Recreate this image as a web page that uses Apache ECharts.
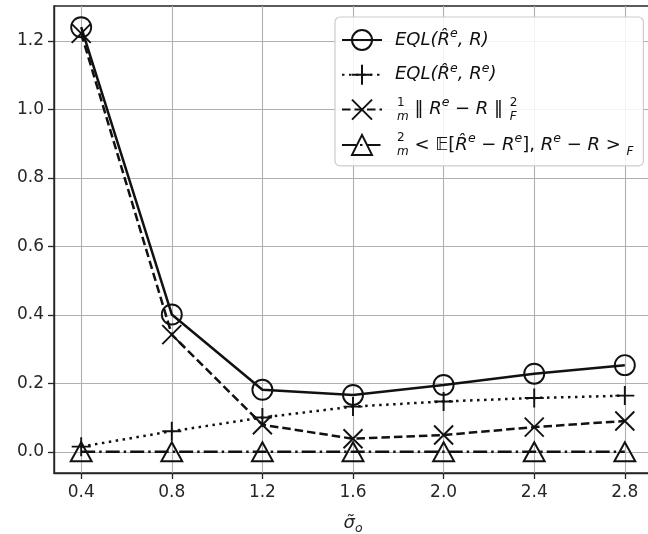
<!DOCTYPE html>
<html>
<head>
<meta charset="utf-8">
<script src="https://cdn.jsdelivr.net/npm/echarts@6/dist/echarts.min.js"></script>
<style>
html,body{margin:0;padding:0;background:#fff;}
#chart{width:648px;height:534px;}
</style>
</head>
<body>
<div id="chart"></div>
<script>
// ---- data ----
const sigmaValues = [0.4, 0.8, 1.2, 1.6, 2.0, 2.4, 2.8];
const eqlR        = [1.240, 0.401, 0.181, 0.166, 0.195, 0.228, 0.253];
const eqlRe       = [0.015, 0.060, 0.100, 0.132, 0.147, 0.157, 0.164];
const normTerm    = [1.222, 0.342, 0.079, 0.038, 0.049, 0.072, 0.090];
const crossTerm   = [0, 0, 0, 0, 0, 0, 0];
const xTicks = [0.4, 0.8, 1.2, 1.6, 2.0, 2.4, 2.8];
const yTicks = [0.0, 0.2, 0.4, 0.6, 0.8, 1.0, 1.2];
const seriesNames = ['EQL(R̂e,R)', 'EQL(R̂e,Re)', 'norm', 'cross'];

const FONT = 'DejaVu Sans';
const INK = '#111111';
const TXT = '#262626';

function pairs(vals) { return sigmaValues.map((x, i) => [x, vals[i]]); }

const richStyles = {
  it:  {fontFamily: FONT, fontStyle: 'italic', fontSize: 18, color: INK, lineHeight: 26},
  up:  {fontFamily: FONT, fontSize: 18, color: INK, lineHeight: 26},
  sup: {fontFamily: FONT, fontStyle: 'italic', fontSize: 12.5, color: INK, verticalAlign: 'top', lineHeight: 15},
  fn:  {fontFamily: FONT, fontSize: 12, color: INK, verticalAlign: 'top', lineHeight: 14, width: 0, padding: [0, 0, 0, 2]},
  fd:  {fontFamily: FONT, fontStyle: 'italic', fontSize: 12, color: INK, verticalAlign: 'bottom', lineHeight: 14},
  sp:  {fontFamily: FONT, fontSize: 12, color: INK, verticalAlign: 'top', lineHeight: 13, width: 0, padding: [0, 0, 0, 1]},
  sb:  {fontFamily: FONT, fontStyle: 'italic', fontSize: 12, color: INK, verticalAlign: 'bottom', lineHeight: 12}
};

const legendText = {
  'EQL(R̂e,R)':  '{it|EQL(R̂}{sup|e}{it|, R)}',
  'EQL(R̂e,Re)': '{it|EQL(R̂}{sup|e}{it|, R}{sup|e}{it|)}',
  'norm':  '{fn|1}{fd|m}{up| ‖ }{it|R}{sup|e}{up| − }{it|R}{up| ‖ }{sp|2}{sb|F}',
  'cross': '{fn|2}{fd|m}{up| < 𝔼[}{it|R̂}{sup|e}{up| − }{it|R}{sup|e}{up|], }{it|R}{sup|e}{up| − }{it|R}{up| > }{sb|F}'
};

const plusPath = 'path://M10,0L10,20M0,10L20,10';
const crossPath = 'path://M0,0L20,20M20,0L0,20';

function lineSeries(name, vals, symbol, size, dash) {
  return {
    name: name,
    type: 'line',
    data: pairs(vals),
    symbol: symbol,
    symbolSize: size,
    showAllSymbol: true,
    clip: false,
    lineStyle: {color: INK, width: 2.5, type: dash},
    itemStyle: {color: 'none', borderColor: INK, borderWidth: 1.9},
    emphasis: {disabled: true},
    z: 3
  };
}

const chart = echarts.init(document.getElementById('chart'), null, {renderer: 'canvas'});
chart.setOption({
  animation: false,
  backgroundColor: '#ffffff',
  grid: {left: 54, top: 6, width: 598, height: 467, containLabel: false, outerBoundsMode: 'none',
         show: true, borderColor: TXT, borderWidth: 1.4, backgroundColor: 'transparent'},
  xAxis: {
    type: 'value', min: 0.28, max: 2.92,
    name: '{it|σ̃}{sb|o}', nameLocation: 'middle', nameGap: 38,
    nameTextStyle: {rich: {
      it: {fontFamily: FONT, fontStyle: 'italic', fontSize: 18, color: TXT, lineHeight: 24},
      sb: {fontFamily: FONT, fontStyle: 'italic', fontSize: 12.5, color: TXT, verticalAlign: 'bottom', lineHeight: 14}
    }},
    axisLine: {show: true, onZero: false, lineStyle: {color: TXT, width: 1.4}},
    axisTick: {show: true, inside: false, length: 6, customValues: xTicks, lineStyle: {color: TXT, width: 1.3}},
    axisLabel: {customValues: xTicks, formatter: v => v.toFixed(1), fontFamily: FONT, fontSize: 17, color: TXT, margin: 11},
    splitLine: {show: true, lineStyle: {color: '#b0b0b0', width: 1.1}}
  },
  yAxis: {
    type: 'value', min: -0.062, max: 1.302,
    axisLine: {show: true, onZero: false, lineStyle: {color: TXT, width: 1.4}},
    axisTick: {show: true, inside: false, length: 6, customValues: yTicks, lineStyle: {color: TXT, width: 1.3}},
    axisLabel: {customValues: yTicks, formatter: v => v.toFixed(1), fontFamily: FONT, fontSize: 17, color: TXT, margin: 10},
    splitLine: {show: true, lineStyle: {color: '#b0b0b0', width: 1.1}}
  },
  legend: {
    show: true,
    orient: 'vertical',
    left: 335, top: 17,
    padding: [10, 10, 8, 6],
    itemGap: 9.3,
    itemWidth: 40, itemHeight: 25,
    backgroundColor: 'rgba(255,255,255,0.85)',
    borderColor: '#cccccc', borderWidth: 1.2, borderRadius: 5,
    selectedMode: false,
    data: seriesNames,
    formatter: n => legendText[n],
    textStyle: {rich: richStyles, padding: [0, 0, 0, 8]}
  },
  series: [
    lineSeries(seriesNames[0], eqlR, 'circle', 20, 'solid'),
    lineSeries(seriesNames[1], eqlRe, plusPath, 19, [2.5, 4.5]),
    lineSeries(seriesNames[2], normTerm, crossPath, 19, [8.5, 4]),
    lineSeries(seriesNames[3], crossTerm, 'triangle', [21, 19], [14, 4, 2.5, 4])
  ]
});
</script>
</body>
</html>
